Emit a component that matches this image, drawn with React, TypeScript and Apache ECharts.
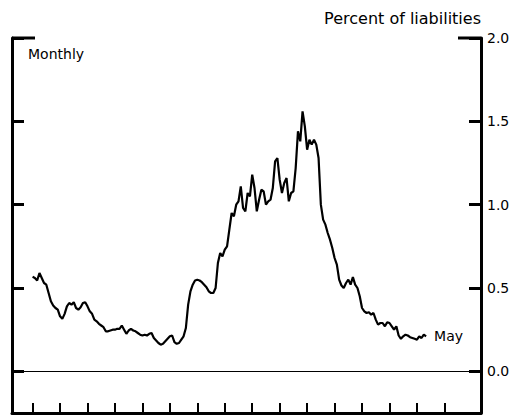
import React, { useEffect, useRef } from 'react';
import * as echarts from 'echarts';

const FONT = 'DejaVu Sans, Liberation Sans, Arial, sans-serif';

// Axis spans 9 months before the first observation and ends 24 months after the last.
const MONTHS_BEFORE = 9;
const AXIS_LENGTH = 206;
const MONTH_NAMES = ['Jan', 'Feb', 'Mar', 'Apr', 'May', 'Jun', 'Jul', 'Aug', 'Sep', 'Oct', 'Nov', 'Dec'];
const TICK_EVERY = 12;
const LAST_TICK_MONTH = 180;

// Monthly values, percent of liabilities (each row = one year, Jan..Dec)
const values: number[] = [
  0.567, 0.56, 0.545, 0.59, 0.56, 0.53, 0.52, 0.47, 0.42, 0.395, 0.38, 0.37,
  0.33, 0.315, 0.345, 0.39, 0.41, 0.40, 0.415, 0.38, 0.37, 0.385, 0.41, 0.415,
  0.39, 0.36, 0.345, 0.31, 0.30, 0.285, 0.275, 0.265, 0.24, 0.24, 0.245, 0.25,
  0.25, 0.255, 0.255, 0.275, 0.25, 0.225, 0.245, 0.255, 0.245, 0.24, 0.23, 0.22,
  0.215, 0.22, 0.215, 0.225, 0.23, 0.20, 0.185, 0.17, 0.16, 0.165, 0.18, 0.195,
  0.21, 0.215, 0.175, 0.165, 0.17, 0.19, 0.21, 0.26, 0.40, 0.48, 0.52, 0.545,
  0.55, 0.545, 0.535, 0.52, 0.505, 0.48, 0.47, 0.47, 0.50, 0.65, 0.71, 0.69,
  0.73, 0.75, 0.85, 0.95, 0.93, 1.00, 1.02, 1.11, 0.98, 0.96, 1.07, 1.05,
  1.18, 1.10, 0.96, 1.03, 1.09, 1.08, 1.00, 1.02, 1.03, 1.10, 1.26, 1.28,
  1.15, 1.07, 1.13, 1.16, 1.02, 1.07, 1.08, 1.22, 1.44, 1.38, 1.56, 1.47,
  1.33, 1.39, 1.36, 1.39, 1.36, 1.28, 1.00, 0.91, 0.88, 0.83, 0.79, 0.74,
  0.68, 0.64, 0.55, 0.515, 0.50, 0.53, 0.55, 0.52, 0.565, 0.52, 0.50, 0.45,
  0.38, 0.36, 0.35, 0.355, 0.34, 0.35, 0.31, 0.28, 0.29, 0.29, 0.27, 0.295,
  0.29, 0.27, 0.25, 0.27, 0.215, 0.195, 0.21, 0.22, 0.215, 0.205, 0.20, 0.195,
  0.19, 0.21, 0.20, 0.22, 0.21,
];

const yTicks = [0, 0.5, 1, 1.5, 2];
const Y_MIN = -0.25;
const Y_MAX = 2;
const endLabelText = 'May';
const yAxisTitle = 'Percent of liabilities';
const frequencyNote = 'Monthly';

const categories: string[] = [];
for (let k = 0; k < AXIS_LENGTH; k++) {
  const m = k - MONTHS_BEFORE;
  const mi = ((m % 12) + 12) % 12;
  const yr = Math.floor(m / 12);
  categories.push(`${MONTH_NAMES[mi]} y${yr}`);
}
const seriesData: (number | null)[] = [];
for (let k = 0; k < MONTHS_BEFORE; k++) seriesData.push(null);
values.forEach((v) => seriesData.push(v));

const GRID = { left: 12, right: 49, top: 38, bottom: 5 };
const W = 530;
const H = 418;

export default function App() {
  const ref = useRef<HTMLDivElement>(null);
  useEffect(() => {
    if (!ref.current) return;
    const chart = echarts.init(ref.current, null, { renderer: 'svg' });
    const axisLine = { show: true, onZero: false, lineStyle: { color: '#000', width: 3 } };
    const yTick = { show: true, inside: true, length: 12, customValues: yTicks, lineStyle: { color: '#000', width: 3 } };
    const rightX = W - GRID.right;
    chart.setOption({
      animation: false,
      backgroundColor: '#fff',
      title: {
        text: frequencyNote,
        left: 28,
        top: 47,
        padding: 0,
        textStyle: { fontFamily: FONT, fontSize: 14, fontWeight: 'normal', color: '#000' },
      },
      grid: { ...GRID, containLabel: false },
      xAxis: {
        type: 'category',
        data: categories,
        boundaryGap: false,
        axisLine,
        axisTick: {
          show: true,
          inside: true,
          length: 10,
          interval: (index: number) => {
            const m = index - MONTHS_BEFORE;
            return m >= 0 && m % TICK_EVERY === 0 && m <= LAST_TICK_MONTH;
          },
          lineStyle: { color: '#000', width: 2 },
        },
        axisLabel: { show: false },
        splitLine: { show: false },
      },
      yAxis: [
        {
          type: 'value',
          position: 'left',
          min: Y_MIN,
          max: Y_MAX,
          axisLine,
          axisTick: yTick,
          axisLabel: { show: false },
          splitLine: { show: false },
        },
        {
          type: 'value',
          position: 'right',
          min: Y_MIN,
          max: Y_MAX,
          name: yAxisTitle,
          nameLocation: 'end',
          nameGap: 12,
          nameTextStyle: { align: 'right', fontFamily: FONT, fontSize: 16, color: '#000' },
          axisLine,
          axisTick: yTick,
          axisLabel: {
            show: true,
            customValues: yTicks,
            formatter: (v: number) => v.toFixed(1),
            margin: 6,
            fontFamily: FONT,
            fontSize: 14,
            color: '#000',
          },
          splitLine: { show: false },
        },
      ],
      graphic: [
        {
          type: 'line',
          shape: { x1: GRID.left, y1: GRID.top, x2: GRID.left + 23, y2: GRID.top },
          style: { stroke: '#000', lineWidth: 3 },
        },
        {
          type: 'line',
          shape: { x1: rightX - 23, y1: GRID.top, x2: rightX, y2: GRID.top },
          style: { stroke: '#000', lineWidth: 3 },
        },
      ],
      series: [
        {
          type: 'line',
          data: seriesData,
          yAxisIndex: 0,
          symbol: 'none',
          showSymbol: false,
          connectNulls: false,
          lineStyle: { color: '#000', width: 2.2 },
          endLabel: {
            show: true,
            formatter: endLabelText,
            distance: 8,
            fontFamily: FONT,
            fontSize: 14,
            color: '#000',
          },
          markLine: {
            silent: true,
            symbol: ['none', 'none'],
            label: { show: false },
            lineStyle: { color: '#000', width: 1, type: 'solid' },
            data: [{ yAxis: 0 }],
          },
        },
      ],
    });
    return () => chart.dispose();
  }, []);
  return <div ref={ref} style={{ position: 'absolute', left: 0, top: 0, width: W, height: H }} />;
}
